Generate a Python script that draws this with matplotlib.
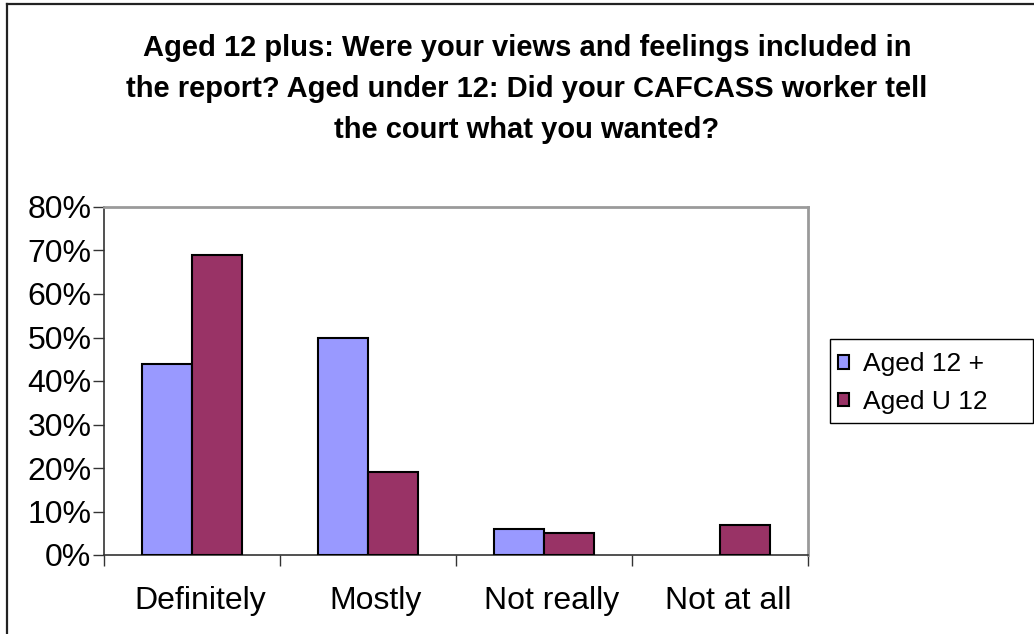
import numpy as np
import matplotlib
matplotlib.use("Agg")
import matplotlib.pyplot as plt
from matplotlib.lines import Line2D
from matplotlib.patches import Rectangle
from matplotlib.ticker import FixedLocator, PercentFormatter
from matplotlib.transforms import ScaledTranslation

plt.rcParams['font.family'] = ['Liberation Sans', 'DejaVu Sans']

# survey answers, percent of respondents
categories = ["Definitely", "Mostly", "Not really", "Not at all"]
aged_12_plus = [44, 50, 6, 0]
aged_under_12 = [69, 19, 5, 7]
series_names = ["Aged 12 +", "Aged U 12"]

W, H = 1034, 634
fig = plt.figure(figsize=(W / 100, H / 100), dpi=100)
fig.patch.set_facecolor("white")

# plot area in pixel units
left, right, top, bottom = 104, 808, 207, 555
ax = fig.add_axes([left / W, 1 - bottom / H, (right - left) / W, (bottom - top) / H])

x = np.arange(len(categories))
bw = 1 / 3.5
# no outline on empty bars
edges_a = ["black" if v > 0 else "none" for v in aged_12_plus]
edges_b = ["black" if v > 0 else "none" for v in aged_under_12]
ax.bar(x - bw / 2, aged_12_plus, bw, color="#9999FF", edgecolor=edges_a, linewidth=1.5,
       label=series_names[0], zorder=3)
ax.bar(x + bw / 2, aged_under_12, bw, color="#993366", edgecolor=edges_b, linewidth=1.5,
       label=series_names[1], zorder=3)

ax.set_xlim(-0.5, len(categories) - 0.5)
ax.set_ylim(0, 80)
ax.set_yticks(np.arange(0, 81, 10))
ax.yaxis.set_major_formatter(PercentFormatter(decimals=0))
ax.set_xticks(x)
ax.set_xticklabels(categories)
ax.xaxis.set_minor_locator(FixedLocator(np.arange(-0.5, len(categories), 1)))
ax.tick_params(axis="x", which="major", length=0, pad=22, labelsize=23)
ax.tick_params(axis="x", which="minor", length=8, width=1, color="#333333")
ax.tick_params(axis="y", length=8, width=1, color="#333333", labelsize=23, pad=1)

shift = ScaledTranslation(8 / 100, 0, fig.dpi_scale_trans)
for lbl in ax.get_xticklabels():
    lbl.set_transform(lbl.get_transform() + shift)

for s in ("top", "right"):
    ax.spines[s].set_color("#9a9a9a")
    ax.spines[s].set_linewidth(2)
for s in ("left", "bottom"):
    ax.spines[s].set_color("#333333")
    ax.spines[s].set_linewidth(1.2)

fig.text(527 / W, 1 - 34 / H,
         "Aged 12 plus: Were your views and feelings included in\n"
         "the report? Aged under 12: Did your CAFCASS worker tell\n"
         "the court what you wanted?",
         ha="center", va="top", fontsize=21, fontweight="bold", linespacing=1.6)

leg = ax.legend(loc="center left", bbox_to_anchor=(838 / W, 1 - 383 / H),
                bbox_transform=fig.transFigure, fontsize=19, frameon=False,
                borderaxespad=0, borderpad=0,
                handlelength=0.4, handleheight=0.4, handletextpad=0.55,
                labelspacing=0.5)

# legend box
fig.add_artist(Rectangle((830 / W, 1 - 423 / H), 203 / W, 84 / H, fill=False,
                         edgecolor="black", lw=1, transform=fig.transFigure))

# chart frame
fig.add_artist(Line2D([7 / W, 7 / W], [0, 1 - 4 / H], color="#222222", lw=1.6,
                      transform=fig.transFigure))
fig.add_artist(Line2D([7 / W, 1], [1 - 4 / H, 1 - 4 / H], color="#222222", lw=1.6,
                      transform=fig.transFigure))

fig.savefig("out.png", dpi=100)
